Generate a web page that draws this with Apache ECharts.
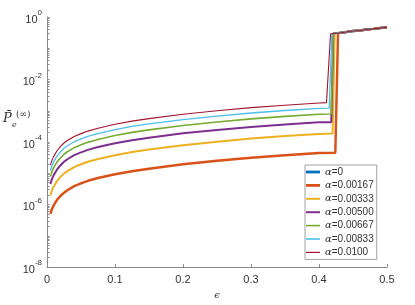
<!DOCTYPE html>
<html><head><meta charset="utf-8">
<script src="https://cdn.jsdelivr.net/npm/echarts@6/dist/echarts.min.js"></script>
<style>html,body{margin:0;padding:0;background:#fff}#c{width:415px;height:305px}</style>
</head><body><div id="c"></div>
<script>
const seriesNames = ['α=0','α=0.00167','α=0.00333','α=0.00500','α=0.00667','α=0.00833','α=0.0100'];
const colors = ['#0072BD','#D95319','#EDB120','#7E2F8E','#77AC30','#4DBEEE','#A2142F'];
const widths = [2.5,2.5,2,2,1.6,1.3,1.1];
const epsLow = [0.005,0.0075,0.01,0.015,0.02,0.025,0.03,0.04,0.05,0.06,0.075,0.1,0.125,0.15,0.2,0.25,0.3,0.35,0.4];
const lowA0 = [];
const lowA1 = [5.01e-7,7.41e-7,9.55e-7,1.45e-6,1.91e-6,2.40e-6,2.88e-6,3.89e-6,4.79e-6,5.75e-6,7.08e-6,9.33e-6,1.17e-5,1.41e-5,1.95e-5,2.51e-5,3.16e-5,3.80e-5,4.47e-5];
const lowA2 = [1.95e-6,2.88e-6,3.80e-6,5.75e-6,7.76e-6,9.77e-6,1.17e-5,1.58e-5,1.95e-5,2.34e-5,2.88e-5,3.80e-5,4.79e-5,5.75e-5,7.94e-5,1.02e-4,1.29e-4,1.55e-4,1.82e-4];
const lowA3 = [4.57e-6,6.76e-6,8.91e-6,1.35e-5,1.82e-5,2.34e-5,2.82e-5,3.80e-5,4.68e-5,5.62e-5,6.92e-5,9.12e-5,1.15e-4,1.38e-4,1.91e-4,2.45e-4,3.02e-4,3.63e-4,4.27e-4];
const lowA4 = [7.94e-6,1.17e-5,1.55e-5,2.34e-5,3.16e-5,4.07e-5,4.90e-5,6.61e-5,8.13e-5,9.77e-5,1.20e-4,1.62e-4,2.04e-4,2.45e-4,3.39e-4,4.37e-4,5.50e-4,6.61e-4,7.76e-4];
const lowA5 = [1.23e-5,1.82e-5,2.40e-5,3.63e-5,4.90e-5,6.31e-5,7.59e-5,1.02e-4,1.26e-4,1.51e-4,1.86e-4,2.51e-4,3.16e-4,3.80e-4,5.25e-4,6.76e-4,8.51e-4,1.02e-3,1.20e-3];
const lowA6 = [1.82e-5,2.69e-5,3.55e-5,5.37e-5,7.24e-5,9.33e-5,1.12e-4,1.51e-4,1.86e-4,2.24e-4,2.75e-4,3.72e-4,4.68e-4,5.62e-4,7.76e-4,1.00e-3,1.26e-3,1.51e-3,1.78e-3];
const edgeEps = [null,0.424,0.420,0.418,0.418,0.415,0.411];
const edgeVal = [null,4.57e-5,1.86e-4,4.3e-4,7.9e-4,1.22e-3,1.82e-3];
const topEps = [0.428,0.428,0.423,0.421,0.421,0.419,0.417];
const topVal = [0.305,0.305,0.30,0.30,0.30,0.295,0.29];
const upperEps = [0.43,0.44,0.45,0.46,0.47,0.48,0.49,0.5];
const upperVals = [0.309,0.331,0.355,0.372,0.398,0.417,0.442,0.468];
const yLabelVals = [1e-8,1e-6,1e-4,1e-2,1];

const lows = [lowA0,lowA1,lowA2,lowA3,lowA4,lowA5,lowA6];
const minorTicks = [];
for (let e = -8; e <= 0; e++) for (let m = 1; m <= 9; m++) { const v = m*Math.pow(10,e); if (v <= 1.0000001) minorTicks.push(v); }

const series = seriesNames.map((name,i) => {
  const data = lows[i].map((v,k) => [epsLow[k], v]);
  if (edgeEps[i] !== null) data.push([edgeEps[i], edgeVal[i]]);
  data.push([topEps[i], topVal[i]]);
  upperEps.forEach((x,k) => data.push([x, upperVals[k]]));
  return {name, type:'line', data, symbol:'none', showSymbol:false, z: 2+i,
    lineStyle:{color:colors[i], width:widths[i]}, itemStyle:{color:colors[i]}, animation:false};
});
const iconH = [2.8,2.8,2,2,1.6,1.6,1.2];
const legendData = seriesNames.map((n,i) => ({name:n, icon:'path://M0,0H14V' + iconH[i] + 'H0Z'}));

const chart = echarts.init(document.getElementById('c'), null, {renderer:'canvas'});
const font = 'Liberation Sans, Arial, sans-serif';
chart.setOption({
  animation:false,
  backgroundColor:'#fff',
  grid:{left:47, right:28, top:17, bottom:36, containLabel:false},
  xAxis:{type:'value', min:0, max:0.5, interval:0.1,
    name:'ϵ', nameLocation:'middle', nameGap:19,
    nameTextStyle:{fontFamily:'DejaVu Serif, serif', fontStyle:'italic', fontSize:10, color:'#333'},
    axisLine:{show:true, lineStyle:{color:'#8a8a8a', width:1}},
    axisTick:{show:true, inside:true, length:3, lineStyle:{color:'#8a8a8a'}},
    splitLine:{show:false},
    axisLabel:{color:'#333', fontSize:11, fontFamily:font, margin:7,
      formatter: v => (Math.abs(v) < 1e-9 ? '0' : String(+v.toFixed(1)))}
  },
  yAxis:{type:'log', logBase:10, min:1e-8, max:1,
    axisLine:{show:true, onZero:false, lineStyle:{color:'#8a8a8a', width:1}},
    axisTick:{show:true, inside:true, length:2.5, customValues: minorTicks, lineStyle:{color:'#8a8a8a'}},
    splitLine:{show:false}, minorTick:{show:false},
    axisLabel:{customValues: yLabelVals, color:'#333', margin:5,
      formatter: v => { const e = Math.round(Math.log10(v)); return '{b|10}{s|' + e + '}'; },
      rich:{b:{fontSize:11, fontFamily:font, color:'#333', lineHeight:16, verticalAlign:'bottom'},
            s:{fontSize:8, fontFamily:font, color:'#333', lineHeight:16, verticalAlign:'top'}}}
  },
  legend:{show:true, orient:'vertical', left:305, top:165, data:legendData,
    backgroundColor:'#fff', borderColor:'#a0a0a0', borderWidth:1, borderRadius:0,
    padding:[2,3,2,1], itemGap:3.4, itemWidth:14, itemHeight:12, symbolKeepAspect:true,
    formatter: n => '{a|α}{t|' + n.slice(1) + '}',
    textStyle:{fontSize:10, fontFamily:font, color:'#333',
      rich:{a:{fontFamily:'DejaVu Serif, serif', fontStyle:'italic', fontSize:10, color:'#333', lineHeight:12},
            t:{fontFamily:font, fontSize:10, color:'#333', lineHeight:12}}}
  },
  graphic:[
    {type:'text', left:3, top:112, style:{text:'P\u0304', font:'italic 13px DejaVu Serif, serif', fill:'#333'}},
    {type:'text', left:12, top:121, style:{text:'e', font:'italic 8px DejaVu Serif, serif', fill:'#333'}},
    {type:'text', left:16, top:110, style:{text:'(∞)', font:'9px DejaVu Serif, serif', fill:'#333'}}
  ],
  series
});
</script></body></html>
